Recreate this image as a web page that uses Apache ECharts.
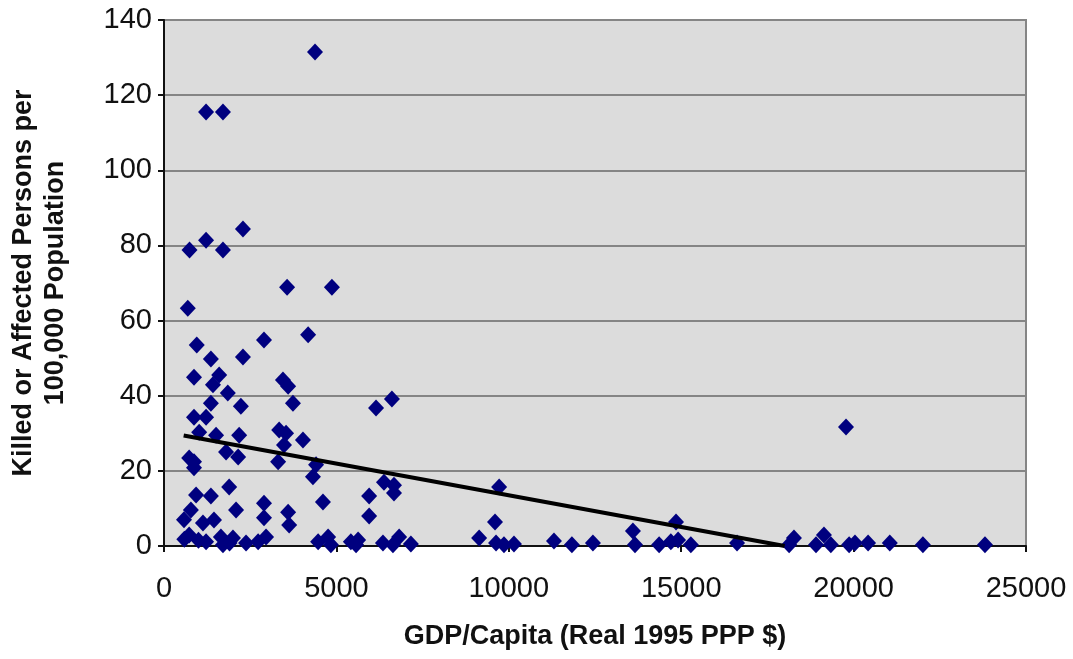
<!DOCTYPE html>
<html>
<head>
<meta charset="utf-8">
<script src="https://cdn.jsdelivr.net/npm/echarts@6/dist/echarts.min.js"></script>
<style>
  html, body { margin: 0; padding: 0; background: #fff; }
  #main { width: 1073px; height: 659px; }
</style>
</head>
<body>
<div id="main"></div>
<script>
// GDP per capita (x) vs killed or affected persons per 100,000 (y)
const gdp = [
  4380, 1220, 1710, 2290, 1220, 740, 1710, 3570, 4870, 690,
  4180, 2900, 950, 2290, 1360, 870, 1600, 1420, 3450, 3600,
  1850, 3740, 1360, 2230, 6150, 6610, 870, 1220, 3340, 3540,
  1020, 1510, 2180, 4030, 3480, 1800, 2150, 730, 870, 870,
  3310, 4410, 4320, 6380, 6670, 6670, 9720, 1890, 930, 1360,
  5950, 2900, 4610, 780, 2090, 3600, 5950, 580, 2900, 1450,
  1130, 3630, 9600, 14850, 13600,
  730, 1220, 1650, 1710, 2000, 2380, 2730, 2960, 4470, 4760,
  4840, 5420, 5630, 5570, 6350, 6640, 6820, 7160, 9140, 9630,
  9860, 10150, 11310, 11830, 12440, 13660, 14360, 14700, 14910, 15280,
  16620, 18130, 18270, 18910, 19140, 19340, 19780, 19870, 20040, 20420,
  21050, 22010, 23810, 1000, 1900, 590
];
const persons = [
  131.5, 115.5, 115.5, 84.4, 81.4, 78.8, 78.8, 68.9, 68.9, 63.3,
  56.2, 54.8, 53.5, 50.3, 49.8, 44.9, 45.5, 42.9, 44.2, 42.5,
  40.7, 38, 38, 37.2, 36.7, 39.1, 34.3, 34.3, 30.9, 30,
  30.3, 29.5, 29.5, 28.2, 26.9, 25, 23.7, 23.4, 22.4, 20.8,
  22.4, 21.6, 18.4, 17, 16.2, 14.1, 15.7, 15.7, 13.6, 13.3,
  13.3, 11.4, 11.7, 9.6, 9.6, 9, 8, 7, 7.5, 6.9,
  6.1, 5.6, 6.4, 6.4, 4,
  2.9, 1.1, 2.4, 0.3, 2.1, 0.8, 1.1, 2.4, 1.1, 2.4,
  0.3, 1.1, 1.6, 0.3, 0.8, 0.3, 2.4, 0.5, 2.1, 0.8,
  0.3, 0.5, 1.3, 0.3, 0.8, 0.3, 0.3, 1.1, 1.6, 0.3,
  0.8, 0.3, 2.1, 0.3, 2.9, 0.3, 31.7, 0.3, 0.8, 0.8,
  0.8, 0.3, 0.3, 1.5, 0.8, 1.8
];
// linear trend line end points
const trendX = [570, 18000];
const trendY = [29.4, 0];

const xTicks = [0, 5000, 10000, 15000, 20000, 25000];
const yTicks = [0, 20, 40, 60, 80, 100, 120, 140];

const points = gdp.map((g, i) => [g, persons[i]]);
const trend = trendX.map((x, i) => [x, trendY[i]]);

const font = '"Liberation Sans", Arial, sans-serif';
const chart = echarts.init(document.getElementById('main'));
chart.setOption({
  animation: false,
  grid: {
    left: 163, right: 47, top: 20, bottom: 113,
    show: true, backgroundColor: '#dcdcdc', borderColor: '#858585', borderWidth: 2
  },
  xAxis: {
    type: 'value',
    min: xTicks[0], max: xTicks[xTicks.length - 1], interval: 5000,
    name: 'GDP/Capita (Real 1995 PPP $)',
    nameLocation: 'middle', nameGap: 77,
    nameTextStyle: { fontFamily: font, fontSize: 27, fontWeight: 'bold', color: '#111' },
    axisLine: { lineStyle: { color: '#111', width: 2 } },
    axisTick: { show: true, length: 6, lineStyle: { color: '#111', width: 2 } },
    axisLabel: { fontFamily: font, fontSize: 29, color: '#111', margin: 28, formatter: v => String(v) },
    splitLine: { show: false }
  },
  yAxis: {
    type: 'value',
    min: yTicks[0], max: yTicks[yTicks.length - 1], interval: 20,
    name: 'Killed or Affected Persons per\n100,000 Population',
    nameLocation: 'middle', nameGap: 92, nameRotate: 90,
    nameTextStyle: { fontFamily: font, fontSize: 27, fontWeight: 'bold', color: '#111', lineHeight: 32 },
    axisLine: { show: true, lineStyle: { color: '#111', width: 2 } },
    axisTick: { show: true, length: 6, lineStyle: { color: '#111', width: 2 } },
    axisLabel: { fontFamily: font, fontSize: 29, color: '#111', margin: 12 },
    splitLine: { show: true, lineStyle: { color: '#858585', width: 2 } }
  },
  series: [
    {
      type: 'scatter',
      data: points,
      symbol: 'diamond',
      symbolSize: [16, 17],
      itemStyle: { color: '#00007f', opacity: 1 },
      z: 3
    },
    {
      type: 'line',
      data: trend,
      showSymbol: false,
      symbol: 'none',
      lineStyle: { color: '#000', width: 4 },
      z: 4
    }
  ]
});
</script>
</body>
</html>
